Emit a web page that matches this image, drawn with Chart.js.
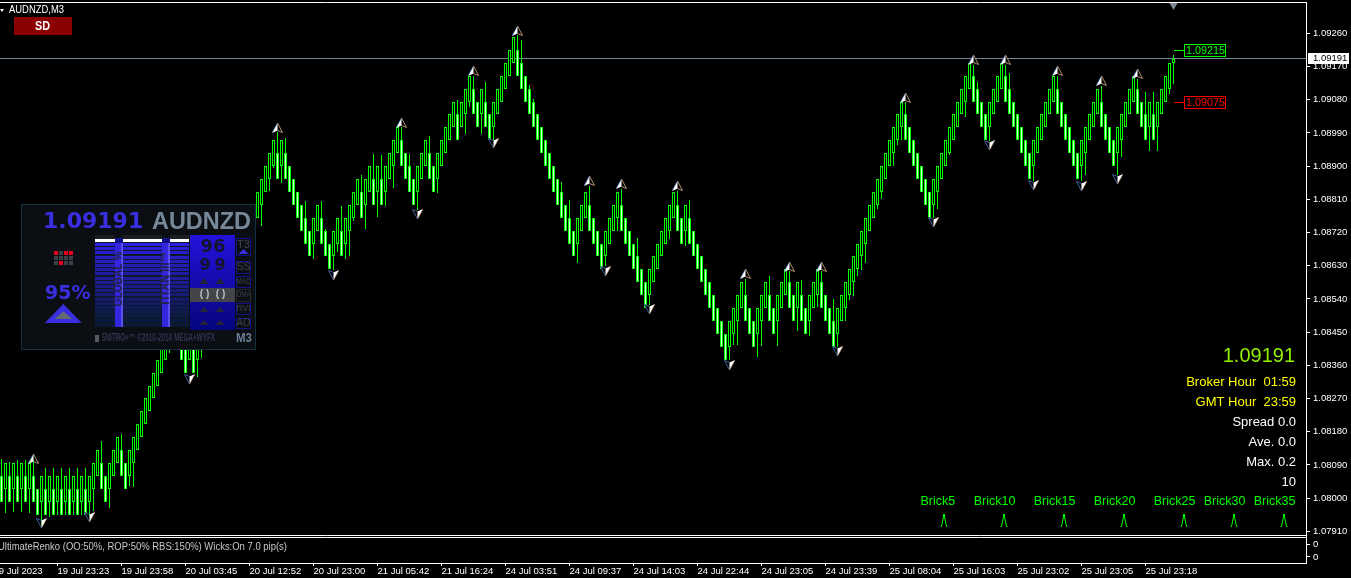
<!DOCTYPE html>
<html><head><meta charset="utf-8">
<style>html,body{margin:0;padding:0;background:#000;overflow:hidden}canvas{display:block}</style>
<script src="https://cdn.jsdelivr.net/npm/chart.js@4"></script>
</head><body><canvas id="c" width="1351" height="578"></canvas>
<script>
const brickTop=[
1.08060,1.08095,1.08060,1.08095,1.08060,1.08095,1.08060,1.08095,1.08060,1.08025,
1.08060,1.08025,1.08060,1.08025,1.08060,1.08025,1.08060,1.08025,1.08060,1.08025,
1.08060,1.08025,1.08060,1.08095,1.08130,1.08095,1.08060,1.08095,1.08130,1.08165,
1.08130,1.08095,1.08130,1.08165,1.08200,1.08235,1.08270,1.08305,1.08340,1.08375,
1.08410,1.08445,1.08480,1.08515,1.08480,1.08445,1.08410,1.08445,1.08410,1.08445,
1.08480,1.08515,1.08550,1.08585,1.08620,1.08585,1.08620,1.08655,1.08690,1.08725,
1.08760,1.08725,1.08760,1.08795,1.08830,1.08865,1.08900,1.08935,1.08970,1.08935,
1.08970,1.08935,1.08900,1.08865,1.08830,1.08795,1.08760,1.08725,1.08760,1.08795,
1.08760,1.08725,1.08690,1.08725,1.08760,1.08725,1.08760,1.08795,1.08830,1.08865,
1.08830,1.08865,1.08900,1.08865,1.08900,1.08865,1.08900,1.08935,1.08970,1.09005,
1.08970,1.08935,1.08900,1.08865,1.08900,1.08935,1.08970,1.08935,1.08900,1.08935,
1.08970,1.09005,1.09040,1.09075,1.09040,1.09075,1.09110,1.09145,1.09110,1.09075,
1.09110,1.09075,1.09040,1.09075,1.09110,1.09145,1.09180,1.09215,1.09250,1.09215,
1.09180,1.09145,1.09110,1.09075,1.09040,1.09005,1.08970,1.08935,1.08900,1.08865,
1.08830,1.08795,1.08760,1.08725,1.08760,1.08795,1.08830,1.08795,1.08760,1.08725,
1.08690,1.08725,1.08760,1.08795,1.08830,1.08795,1.08760,1.08725,1.08690,1.08655,
1.08620,1.08585,1.08620,1.08655,1.08690,1.08725,1.08760,1.08795,1.08830,1.08795,
1.08760,1.08795,1.08760,1.08725,1.08690,1.08655,1.08620,1.08585,1.08550,1.08515,
1.08480,1.08445,1.08480,1.08515,1.08550,1.08585,1.08550,1.08515,1.08480,1.08515,
1.08550,1.08585,1.08550,1.08515,1.08550,1.08585,1.08620,1.08585,1.08550,1.08585,
1.08550,1.08515,1.08550,1.08585,1.08620,1.08585,1.08550,1.08515,1.08480,1.08515,
1.08550,1.08585,1.08620,1.08655,1.08690,1.08725,1.08760,1.08795,1.08830,1.08865,
1.08900,1.08935,1.08970,1.09005,1.09040,1.09075,1.09040,1.09005,1.08970,1.08935,
1.08900,1.08865,1.08830,1.08865,1.08900,1.08935,1.08970,1.09005,1.09040,1.09075,
1.09110,1.09145,1.09180,1.09145,1.09110,1.09075,1.09040,1.09075,1.09110,1.09145,
1.09180,1.09145,1.09110,1.09075,1.09040,1.09005,1.08970,1.08935,1.08970,1.09005,
1.09040,1.09075,1.09110,1.09145,1.09110,1.09075,1.09040,1.09005,1.08970,1.08935,
1.08970,1.09005,1.09040,1.09075,1.09110,1.09075,1.09040,1.09005,1.08970,1.09005,
1.09040,1.09075,1.09110,1.09145,1.09110,1.09075,1.09040,1.09075,1.09040,1.09075,
1.09110,1.09145,1.09180,1.09191];
const brickBodyHeight=0.00070;
const lastBrickOpen=1.09180;
const pointSize=0.00001;
const upWickBars=[0,2,4,6,8,11,13,15,17,19,21,25,30,69,71,76,80,81,85,90,93,95,100,102,107,114,118,121,129,130,132,133,140,142,147,155,159,169,172,186,192,197,200,205,208,226,243,244,251,252,264,275,284,286,288,293];
const upWickPts=[46,38,43,43,46,57,57,57,57,57,57,60,43,57,41,46,46,5,68,46,68,65,35,33,46,38,35,54,41,62,11,8,27,49,51,43,49,38,49,43,51,30,41,30,60,33,30,19,30,43,35,43,27,62,62,11];
const downWickBars=[1,3,5,7,10,12,14,16,18,20,22,23,27,32,33,42,49,50,65,67,68,70,78,83,84,86,87,88,91,94,96,98,104,109,116,117,120,123,144,151,154,162,167,171,182,183,184,189,190,194,199,202,204,209,211,212,213,214,215,216,219,220,223,224,225,233,234,237,241,247,258,270,271,279,280,287,289,292,293];
const downWickPts=[65,62,62,65,62,41,35,35,35,35,41,60,51,27,65,16,46,30,57,33,5,46,41,38,24,43,68,8,65,68,38,60,49,38,54,16,54,35,54,27,35,27,22,41,35,30,65,62,68,68,62,41,33,35,35,14,38,19,38,54,11,19,35,14,33,35,46,5,41,38,41,41,60,60,46,65,65,14,57];
const arrowUpBars=[8,69,100,118,129,147,155,169,186,197,205,226,243,251,264,275,284];
const arrowUpPrices=[1.08107,1.09004,1.09017,1.09157,1.09266,1.08860,1.08851,1.08846,1.08608,1.08626,1.08626,1.09085,1.09188,1.09188,1.09157,1.09130,1.09150];
const arrowDownBars=[10,22,47,83,104,123,151,162,182,209,233,247,258,270,279];
const arrowDownPrices=[1.07933,1.07950,1.08323,1.08606,1.08770,1.08963,1.08616,1.08513,1.08361,1.08399,1.08749,1.08958,1.08849,1.08847,1.08866];
const yTickValues=[1.09260,1.09170,1.09080,1.08990,1.08900,1.08810,1.08720,1.08630,1.08540,1.08450,1.08360,1.08270,1.08180,1.08090,1.08000,1.07910];
const xTickBars=[-2,14,30,46,62,78,94,110,126,142,158,174,190,206,222,238,254,270,286];
const xTickLabels=["19 Jul 2023","19 Jul 23:23","19 Jul 23:58","20 Jul 03:45","20 Jul 12:52","20 Jul 23:00","21 Jul 05:42","21 Jul 16:24","24 Jul 03:51","24 Jul 09:37","24 Jul 14:03","24 Jul 22:44","24 Jul 23:05","24 Jul 23:39","25 Jul 08:04","25 Jul 16:03","25 Jul 23:02","25 Jul 23:05","25 Jul 23:18"];
const bidPrice=1.09191;
const upperTarget=1.09215;
const lowerTarget=1.09075;
const shiftMarkerPrice=1.09337;
const subTickValues=[0.67,0.22];
const brickLabels=["Brick5","Brick10","Brick15","Brick20","Brick25","Brick30","Brick35"];
const infoLines=["Broker Hour  01:59","GMT Hour  23:59","Spread 0.0","Ave. 0.0","Max. 0.2","10"];

const LIME='#00ff00';
const FONT='"Liberation Sans"';
const isUp=i=>i>0&&brickTop[i]>brickTop[i-1];
const bodyLow=i=>i===brickTop.length-1?lastBrickOpen:brickTop[i]-brickBodyHeight;
const upOf=i=>{const k=upWickBars.indexOf(i);return k<0?0:upWickPts[k]*pointSize;};
const downOf=i=>{const k=downWickBars.indexOf(i);return k<0?0:downWickPts[k]*pointSize;};

const bodies=brickTop.map((t,i)=>({x:i,y:[bodyLow(i),t]}));
const wicks=brickTop.map((t,i)=>({x:i,y:[bodyLow(i)-downOf(i),t+upOf(i)]}));

function arrowIcon(up){
  const c=document.createElement('canvas');c.width=11;c.height=10;
  const g=c.getContext('2d');
  if(!up){g.translate(0,10);g.scale(1,-1);}
  const left=[[5.5,0],[0,10],[5.5,7.5]],right=[[5.5,0],[11,10],[5.5,7.5]];
  const path=p=>{g.beginPath();g.moveTo(p[0][0],p[0][1]);g.lineTo(p[1][0],p[1][1]);g.lineTo(p[2][0],p[2][1]);g.closePath();};
  if(up){
    path(right);g.fillStyle='#000';g.fill();
    g.strokeStyle='#b09070';g.lineWidth=1;g.beginPath();g.moveTo(5.5,0);g.lineTo(10.5,9.5);g.lineTo(5.5,7.5);g.stroke();
    path(left);g.fillStyle='#fff';g.fill();
    g.strokeStyle='#4a80d0';g.lineWidth=.6;g.beginPath();g.moveTo(5,.5);g.lineTo(.3,9.5);g.stroke();
  }else{
    path(left);g.fillStyle='#000';g.fill();
    g.strokeStyle='#3f5f9a';g.lineWidth=1;g.beginPath();g.moveTo(5.5,0);g.lineTo(.5,9.5);g.lineTo(5.5,7.5);g.stroke();
    path(right);g.fillStyle='#fff';g.fill();
    g.strokeStyle='#c9a070';g.lineWidth=.6;g.beginPath();g.moveTo(6,.5);g.lineTo(10.7,9.5);g.stroke();
  }
  return c;
}

function text(g,s,x,y,font,color,align,maxW){
  g.font=font;g.fillStyle=color;g.textAlign=align||'left';g.textBaseline='middle';
  if(maxW)g.fillText(s,x,y,maxW);else g.fillText(s,x,y);
}
function tri(g,x,y0,y1,hw,color){g.beginPath();g.moveTo(x,y0);g.lineTo(x-hw,y1);g.lineTo(x+hw,y1);g.closePath();g.fillStyle=color;g.fill();}

function drawPanel(g){
  g.fillStyle='#0b0e13';g.fillRect(21,204,235,146);
  g.strokeStyle='#12313f';g.lineWidth=1;g.strokeRect(21.5,204.5,234,145);
  text(g,'1.09191',43,222.5,'bold 22px "DejaVu Sans"','#3a2fe0','left',101);
  text(g,'AUDNZD',152,222.5,'bold 24px '+FONT,'#778899','left',99);
  const reds={'0,0':1,'0,2':1,'0,3':1,'2,1':1};
  for(let r=0;r<3;r++)for(let q=0;q<4;q++){g.fillStyle=reds[r+','+q]?'#e8001c':'#3a3f48';g.fillRect(54+q*5,251+r*5,4,4);}
  text(g,'95%',45,294,'bold 19px "DejaVu Sans"','#3a2fe0','left',46);
  tri(g,63.3,304,323,18.5,'#3a2fe0');tri(g,63.3,311.5,319,9,'#666a72');
  const cols=[[95,20],[123,20],[143,19],[170,19]];
  for(const [x,w] of cols){
    g.fillStyle='#1c1e24';g.fillRect(x,235,w,4);
    g.fillStyle='#0a1a2c';g.fillRect(x,239,w,88);
    g.fillStyle='#ffffff';g.fillRect(x,239,w,3);
    for(let k=0;k<20;k++){
      const t=k/19;
      g.fillStyle=`rgb(${Math.round(44-34*t)},${Math.round(30-5*t)},${Math.round(224-170*t)})`;
      g.fillRect(x,Math.round(243+k*4.2),w,3);
    }
  }
  for(const [x,w,label] of [[115,8,'GLOBAL %'],[162,8,'TITAN III™']]){
    g.fillStyle='#10108a';g.fillRect(x,238,w,5);
    g.fillStyle='#3326dd';g.fillRect(x,243,w,84);
    g.fillStyle='#5a50ee';g.fillRect(x+w-2,243,2,84);
    g.save();g.translate(x+w/2-.5,279);g.rotate(-Math.PI/2);
    text(g,label,0,0,'bold 12px '+FONT,'#222244','center',55);g.restore();
  }
  const grad=g.createLinearGradient(0,235,0,330);grad.addColorStop(0,'#2412dc');grad.addColorStop(1,'#05057e');
  g.fillStyle=grad;g.fillRect(190,235,45,95);
  text(g,'96',213,247,'bold 18px "DejaVu Sans"','#14142e','center');
  text(g,'9',205,266,'bold 16px "DejaVu Sans"','#14142e','center');
  text(g,'9',220,266,'bold 16px "DejaVu Sans"','#14142e','center');
  for(const x of [204,220]){tri(g,x,278,284,4.5,'#23233a');tri(g,x,307,312,4.5,'#23233a');tri(g,x,320,325,4.5,'#23233a');}
  g.fillStyle='#444548';g.fillRect(190,288,45,14);
  text(g,'( )',204.5,294.5,'bold 10px '+FONT,'#b8c0cc','center');
  text(g,'( )',220.5,294.5,'bold 10px '+FONT,'#b8c0cc','center');
  const side=[['T3',238,255,245],['SS',261,273,267],['MAC',276,287,281.5],['OMA',289,301,295],['RVI',303,314,308.5],['AO',318,328,323]];
  for(const [s,a,b,m] of side){
    g.strokeStyle=s==='OMA'?'#26282e':'#15108c';g.strokeRect(236.5,a+.5,14,b-a);
    text(g,s,243.5,m,(s.length>2?'9px ':'11px ')+FONT,'#3f444e','center',14);
  }
  tri(g,243.5,249,254,5,'#3a2fe0');
  g.fillStyle='#555a66';g.fillRect(95,335,4,7);
  text(g,'5NITRO+™ ©2010-2014 MEGA+WYFX',102,338.5,'bold 10px '+FONT,'#2f3552','left',113);
  text(g,'M3',236,338.5,'bold 12px '+FONT,'#6d7f96','left',16);
}

const chromePlugin={
  id:'chrome',
  beforeDraw(ch){const g=ch.ctx;g.save();g.fillStyle='#000';g.fillRect(0,0,1351,578);g.restore();},
  afterDatasetsUpdate(ch){
    ch.data.datasets.forEach((d,i)=>{
      const m=ch.getDatasetMeta(i);
      m.data.forEach(e=>{
        if(m.type==='bar'){e.y=Math.round(e.y);e.base=Math.round(e.base);e.height=e.base-e.y;}
        else if(m.type==='line'){e.y=Math.floor(e.y)+.5;}
        else{e.y=Math.round(e.y);}
      });
    });
  },
  afterDraw(ch){
    const g=ch.ctx,y=ch.scales.y,A=ch.chartArea;
    g.save();
    g.strokeStyle='#fff';g.lineWidth=1;g.beginPath();
    for(const v of [2.5,535.5,537.5]){g.moveTo(0,v);g.lineTo(A.right,v);}
    g.stroke();
    drawPanel(g);
    g.fillStyle='#fff';g.beginPath();g.moveTo(0,9);g.lineTo(4,9);g.lineTo(2,12);g.closePath();g.fill();
    text(g,'AUDNZD,M3',9,10.5,'10.5px '+FONT,'#ffffff','left',55);
    g.fillStyle='#8b0000';g.fillRect(14,17,58,18);
    text(g,'SD',42.5,26.5,'bold 13px '+FONT,'#ffffff','center',15);
    for(const [v,col] of [[upperTarget,LIME],[lowerTarget,'#ff0000']]){
      const py=Math.round(y.getPixelForValue(v))+.5;
      g.strokeStyle=col;g.beginPath();g.moveTo(1174,py);g.lineTo(1184,py);g.stroke();
      g.strokeRect(1184.5,py-6,41,12);
      text(g,v.toFixed(5),1186,py+.5,'11px '+FONT,col,'left',39);
    }
    const by=Math.floor(y.getPixelForValue(bidPrice));
    g.fillStyle='#fff';g.fillRect(1308,by-5,41,11);
    text(g,bidPrice.toFixed(5),1313,by+.5,'9.5px '+FONT,'#000','left');
    text(g,'UltimateRenko (OO:50%, ROP:50% RBS:150%) Wicks:On 7.0 pip(s)',-2,546.5,'11px '+FONT,'#c8c8c8','left',289);
    text(g,bidPrice.toFixed(5),1295,356.5,'20px '+FONT,'#90ee00','right');
    const cols=['#ffff00','#ffff00','#fff','#fff','#fff','#fff'];
    infoLines.forEach((s,i)=>text(g,s,1296,382.5+i*20,'13px '+FONT,cols[i],'right'));
    const bx=[937.8,994.5,1054.5,1114.5,1174.5,1224.5,1274.5];
    const ax=[944,1004,1064,1124,1184,1234,1284];
    brickLabels.forEach((s,i)=>{
      text(g,s,bx[i],501.5,'12.5px '+FONT,LIME,'center');
      g.strokeStyle=LIME;g.beginPath();
      g.moveTo(ax[i]-3.5,526.5);g.lineTo(ax[i]-2.5,526.5);g.lineTo(ax[i],514.5);g.lineTo(ax[i]+2.5,526.5);g.lineTo(ax[i]+3.5,526.5);g.stroke();
      g.fillStyle=LIME;g.fillRect(ax[i]-1,514,2,2);
    });
    g.restore();
  }
};

Chart.defaults.font.family=FONT;
new Chart(document.getElementById('c'),{
  type:'bar',
  plugins:[chromePlugin],
  data:{datasets:[
    {type:'scatter',label:'Swing high',order:0,data:arrowUpBars.map((b,i)=>({x:b,y:arrowUpPrices[i]})),pointStyle:arrowIcon(true),pointRadius:5,showLine:false,xAxisID:'x',yAxisID:'y'},
    {type:'scatter',label:'Swing low',order:0,data:arrowDownBars.map((b,i)=>({x:b,y:arrowDownPrices[i]})),pointStyle:arrowIcon(false),pointRadius:5,showLine:false,xAxisID:'x',yAxisID:'y'},
    {type:'scatter',label:'Chart shift',order:0,data:[{x:brickTop.length-1,y:shiftMarkerPrice}],pointStyle:'triangle',rotation:180,pointRadius:5,backgroundColor:'#808a96',borderColor:'#808a96',borderWidth:0,showLine:false,xAxisID:'x',yAxisID:'y'},
    {type:'bar',label:'Bodies',order:1,data:bodies,barThickness:3,grouped:false,borderWidth:1,borderSkipped:false,inflateAmount:0,borderColor:LIME,
      backgroundColor:brickTop.map((t,i)=>isUp(i)?'#000000':'#c8ffc8'),xAxisID:'x',yAxisID:'y'},
    {type:'bar',label:'Wicks',order:2,data:wicks,barThickness:1,grouped:false,borderWidth:0,inflateAmount:0,backgroundColor:LIME,xAxisID:'x',yAxisID:'y'},
    {type:'line',label:'Bid',order:3,data:[{x:-0.375,y:bidPrice},{x:326.125,y:bidPrice}],borderColor:'#778899',borderWidth:1,pointRadius:0,tension:0,xAxisID:'x',yAxisID:'y'}
  ]},
  options:{
    responsive:false,animation:false,devicePixelRatio:1,
    events:[],
    layout:{autoPadding:false,padding:{top:2,left:0,right:0,bottom:0}},
    plugins:{legend:{display:false},tooltip:{enabled:false}},
    scales:{
      x:{type:'linear',position:'bottom',min:-0.375,max:326.125,offset:false,
        grid:{display:true,offset:false,drawOnChartArea:false,drawTicks:true,tickLength:3,color:'#fff'},
        border:{display:true,color:'#fff'},
        afterBuildTicks:s=>{s.ticks=xTickBars.map(v=>({value:v}));},
        afterFit:s=>{s.height=15;s.paddingLeft=0;s.paddingRight=0;},
        ticks:{color:'#fff',align:'start',padding:0,maxRotation:0,minRotation:0,autoSkip:false,includeBounds:false,font:{size:9.5},callback:(v,i)=>xTickLabels[i]}
      },
      y:{type:'linear',position:'right',stack:'rows',stackWeight:533.5,weight:0,min:1.078986,max:1.093448,
        grid:{display:true,drawOnChartArea:false,drawTicks:true,tickLength:4,color:'#fff'},
        border:{display:true,color:'#fff'},
        afterBuildTicks:s=>{s.ticks=yTickValues.map(v=>({value:v}));},
        afterFit:s=>{s.width=45;s.paddingTop=0;s.paddingBottom=0;},
        ticks:{color:'#fff',padding:3,autoSkip:false,font:{size:9.5},callback:v=>v.toFixed(5)}
      },
      ySub:{type:'linear',position:'right',stack:'rows',stackWeight:27.5,weight:1,min:0,max:1,
        grid:{display:true,drawOnChartArea:false,drawTicks:true,tickLength:4,color:'#fff'},
        border:{display:true,color:'#fff'},
        afterBuildTicks:s=>{s.ticks=subTickValues.map(v=>({value:v}));},
        afterFit:s=>{s.width=45;s.paddingTop=0;s.paddingBottom=0;},
        ticks:{color:'#fff',padding:3,autoSkip:false,font:{size:9.5},callback:()=>'0'}
      }
    }
  }
});
</script></body></html>
